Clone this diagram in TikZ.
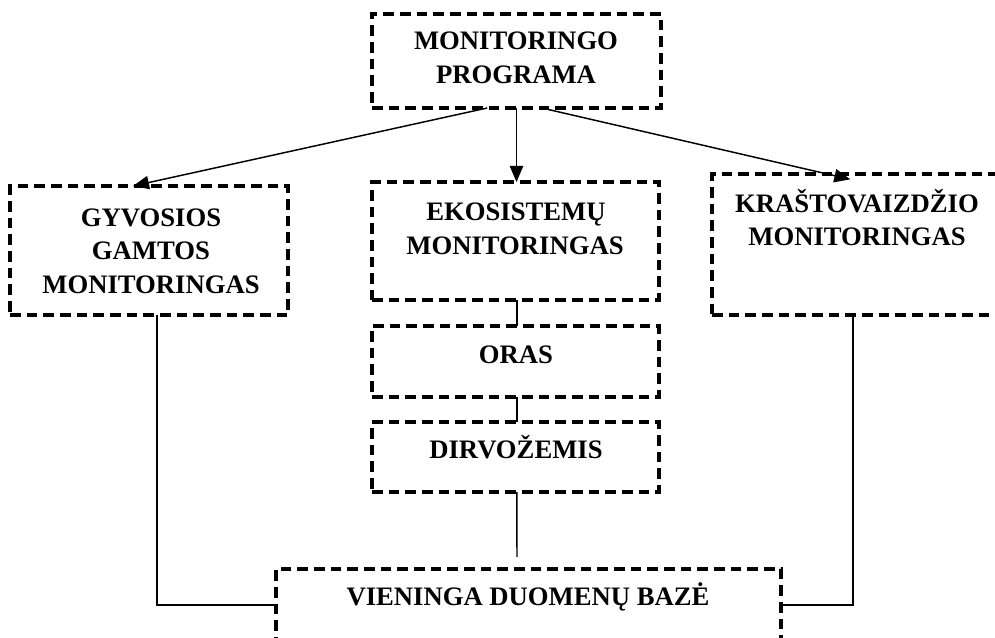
\documentclass[tikz,border=0pt]{standalone}
\usepackage{fontspec}
\setmainfont{Liberation Serif}
\usetikzlibrary{arrows.meta}
\begin{document}
\begin{tikzpicture}[x=0.75pt,y=-0.75pt,
  box/.style={draw, line width=2.3pt, dash pattern=on 8pt off 4.5pt, rectangle, inner sep=0pt, outer sep=0pt},
  lbl/.style={font=\fontsize{20}{24}\selectfont\bfseries, inner sep=0pt, anchor=base},
  conn/.style={line width=1.1pt},
  arr/.style={conn, -{Triangle[length=12pt,width=10pt]}}]
\clip (0,0) rectangle (995,638);
% boxes
\node[box, minimum width=216.75pt, minimum height=70.5pt] (top) at (516.5,61) {};
\node[box, minimum width=208.5pt, minimum height=96.75pt] (gyv) at (149,250.5) {};
\node[box, minimum width=215.25pt, minimum height=88.5pt] (eko) at (515.5,241) {};
\node[box, minimum width=215.25pt, minimum height=53.25pt] (oras) at (515.5,361.5) {};
\node[box, minimum width=215.25pt, minimum height=52.5pt] (dirv) at (515.5,457) {};
\node[box, minimum width=223.5pt, minimum height=105.75pt] (kra) at (861,244.5) {};
\node[box, minimum width=378.75pt, minimum height=54pt] (baze) at (528.5,605) {};
% texts
\node[lbl] (t1) at (516,50) {MONITORINGO};
\node[lbl] (t2) at (516,84) {PROGRAMA};
\node[lbl] (g1) at (151,226) {GYVOSIOS};
\node[lbl] (g2) at (151,259.5) {GAMTOS};
\node[lbl] (g3) at (151,293) {MONITORINGAS};
\node[lbl] (e1) at (516,220) {EKOSISTEMŲ};
\node[lbl] (e2) at (515,254) {MONITORINGAS};
\node[lbl] (o1) at (516,363) {ORAS};
\node[lbl] (d1) at (516,458) {DIRVOŽEMIS};
\node[lbl] (k1) at (857,212) {KRAŠTOVAIZDŽIO};
\node[lbl] (k2) at (857,245) {MONITORINGAS};
\node[lbl] (b1) at (528,605) {VIENINGA DUOMENŲ BAZĖ};
% arrows
\draw[arr] ([xshift=-22pt]top.south) -- ([xshift=-12pt]gyv.north);
\draw[arr] (top.south) -- (top.south |- eko.north);
\draw[arr] ([xshift=19pt]top.south) -- ([xshift=-8pt,yshift=-4pt]kra.north);
% connectors
\draw[conn] ([xshift=1pt]eko.south) -- ([xshift=1pt]oras.north);
\draw[conn] ([xshift=1pt]oras.south) -- ([xshift=1pt]dirv.north);
\coordinate (dend) at (517,557);
\draw[conn] ([xshift=1pt]dirv.south) -- (dend);
\draw[conn] ([xshift=6pt]gyv.south) |- (baze.west);
\draw[conn] ([xshift=-6pt]kra.south) |- (baze.east);
\end{tikzpicture}
\end{document}
